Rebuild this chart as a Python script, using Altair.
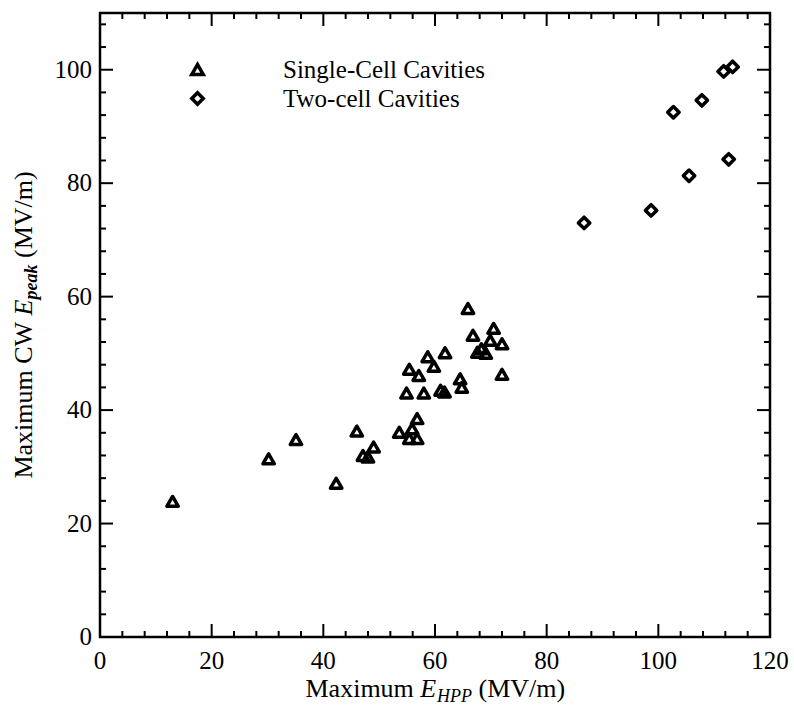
import altair as alt
import pandas as pd

# ---- data ----
series_names = ["Single-Cell Cavities", "Two-cell Cavities"]
single_x = [13.0, 30.2, 35.1, 42.3, 46.0, 47.1, 48.0, 49.0, 53.6, 55.4, 56.8, 55.9, 56.8,
            54.9, 58.0, 61.0, 61.7, 55.4, 57.1, 58.7, 59.8, 61.8, 64.5, 64.8, 65.9, 66.8,
            70.5, 69.9, 72.0, 67.6, 68.3, 69.1, 72.0]
single_y = [23.9, 31.4, 34.8, 27.1, 36.3, 32.0, 31.7, 33.5, 36.1, 35.0, 35.0, 36.7, 38.5,
            43.0, 43.0, 43.5, 43.2, 47.2, 46.1, 49.4, 47.7, 50.1, 45.5, 44.0, 57.9, 53.2,
            54.4, 52.3, 51.7, 50.2, 50.8, 50.0, 46.3]
two_x = [86.7, 98.7, 102.7, 105.5, 107.8, 111.7, 112.6, 113.3]
two_y = [73.0, 75.2, 92.5, 81.3, 94.6, 99.7, 84.2, 100.5]

x_major = [0, 20, 40, 60, 80, 100, 120]
x_minor = [4, 8, 12, 16, 24, 28, 32, 36, 44, 48, 52, 56, 64, 68, 72, 76, 84, 88, 92, 96,
           104, 108, 112, 116]
y_major = [0, 20, 40, 60, 80, 100]
y_minor = [4, 8, 12, 16, 24, 28, 32, 36, 44, 48, 52, 56, 64, 68, 72, 76, 84, 88, 92, 96,
           104, 108]

x_title_parts = ["Maximum", "E", "HPP", "(MV/m)"]
y_title_parts = ["Maximum CW", "E", "peak", "(MV/m)"]

FONT = "Liberation Serif"
W, H = 670, 624

points = pd.DataFrame({
    "x": single_x + two_x,
    "y": single_y + two_y,
    "series": [series_names[0]] * len(single_x) + [series_names[1]] * len(two_x),
})

xs = alt.Scale(domain=[0, 120], nice=False, zero=False)
ys = alt.Scale(domain=[0, 110], nice=False, zero=False)

legend = alt.Legend(orient="none", legendX=85, legendY=44, title=None,
                    labelFont=FONT, labelFontSize=25, labelColor="black", labelLimit=0,
                    labelOffset=73, symbolSize=130, symbolStrokeWidth=3.5,
                    symbolStrokeColor="black", symbolFillColor="white", symbolOpacity=1,
                    padding=0)

pts = alt.Chart(points).mark_point(
    filled=False, strokeWidth=3.5, opacity=1, size=130, strokeJoin="round"
).encode(
    x=alt.X("x:Q", scale=xs, axis=None),
    y=alt.Y("y:Q", scale=ys, axis=None),
    shape=alt.Shape("series:N", scale=alt.Scale(domain=series_names,
                                                range=["triangle-up", "diamond"]),
                    legend=legend),
    color=alt.Color("series:N", scale=alt.Scale(domain=series_names,
                                                range=["black", "black"]),
                    legend=legend),
)

def xticks(vals, length):
    df = pd.DataFrame({"x": vals})
    bot = alt.Chart(df).mark_rule(color="black", strokeWidth=2).encode(
        x=alt.X("x:Q", scale=xs, axis=None), y=alt.value(H), y2=alt.value(H - length))
    top = alt.Chart(df).mark_rule(color="black", strokeWidth=2).encode(
        x=alt.X("x:Q", scale=xs, axis=None), y=alt.value(0), y2=alt.value(length))
    return [bot, top]

def yticks(vals, length):
    df = pd.DataFrame({"y": vals})
    left = alt.Chart(df).mark_rule(color="black", strokeWidth=2).encode(
        y=alt.Y("y:Q", scale=ys, axis=None), x=alt.value(0), x2=alt.value(length))
    right = alt.Chart(df).mark_rule(color="black", strokeWidth=2).encode(
        y=alt.Y("y:Q", scale=ys, axis=None), x=alt.value(W), x2=alt.value(W - length))
    return [left, right]

# tick labels drawn as text through the scales
xlab = alt.Chart(pd.DataFrame({"x": x_major})).mark_text(
    font=FONT, fontSize=25, color="black", align="center", baseline="top"
).encode(x=alt.X("x:Q", scale=xs, axis=None), y=alt.value(H + 12),
         text=alt.Text("x:Q", format="d"))
ylab = alt.Chart(pd.DataFrame({"y": y_major})).mark_text(
    font=FONT, fontSize=25, color="black", align="right", baseline="middle"
).encode(y=alt.Y("y:Q", scale=ys, axis=None), x=alt.value(-8),
         text=alt.Text("y:Q", format="d"))

one = alt.Data(values=[{"k": 1}])

def txt(text, x, y, size=26, style="normal", weight="normal", angle=0):
    return alt.Chart(one).mark_text(
        text=text, font=FONT, fontSize=size, fontStyle=style, fontWeight=weight,
        align="left", baseline="alphabetic", angle=angle, color="black"
    ).encode(x=alt.value(x), y=alt.value(y))

xb = 684
titles = [
    txt(x_title_parts[0], 205.5, xb),
    txt(x_title_parts[1], 320.3, xb, style="italic"),
    txt(x_title_parts[2], 337, xb + 5, size=18, style="italic"),
    txt(x_title_parts[3], 378.5, xb),
    txt(y_title_parts[0], -68, 465.6, angle=270),
    txt(y_title_parts[1], -68, 302.4, style="italic", angle=270),
    txt(y_title_parts[2], -63, 286.5, size=18, style="italic", weight="bold", angle=270),
    txt(y_title_parts[3], -68, 245, angle=270),
]

layers = (xticks(x_major[1:-1], 13) + xticks(x_minor, 6) +
          yticks(y_major[1:], 13) + yticks(y_minor, 6) + [xlab, ylab, pts] + titles)

chart = alt.layer(*layers).properties(
    width=W, height=H,
    autosize=alt.AutoSizeParams(type="none"),
    padding={"left": 100, "top": 13, "right": 24, "bottom": 70},
    background="white",
).configure_view(stroke="black", strokeWidth=2.5
).configure_legend(labelFont=FONT, labelFontSize=25, labelLimit=0)

chart.save("out.html", embed_options={"renderer": "svg", "actions": False})
